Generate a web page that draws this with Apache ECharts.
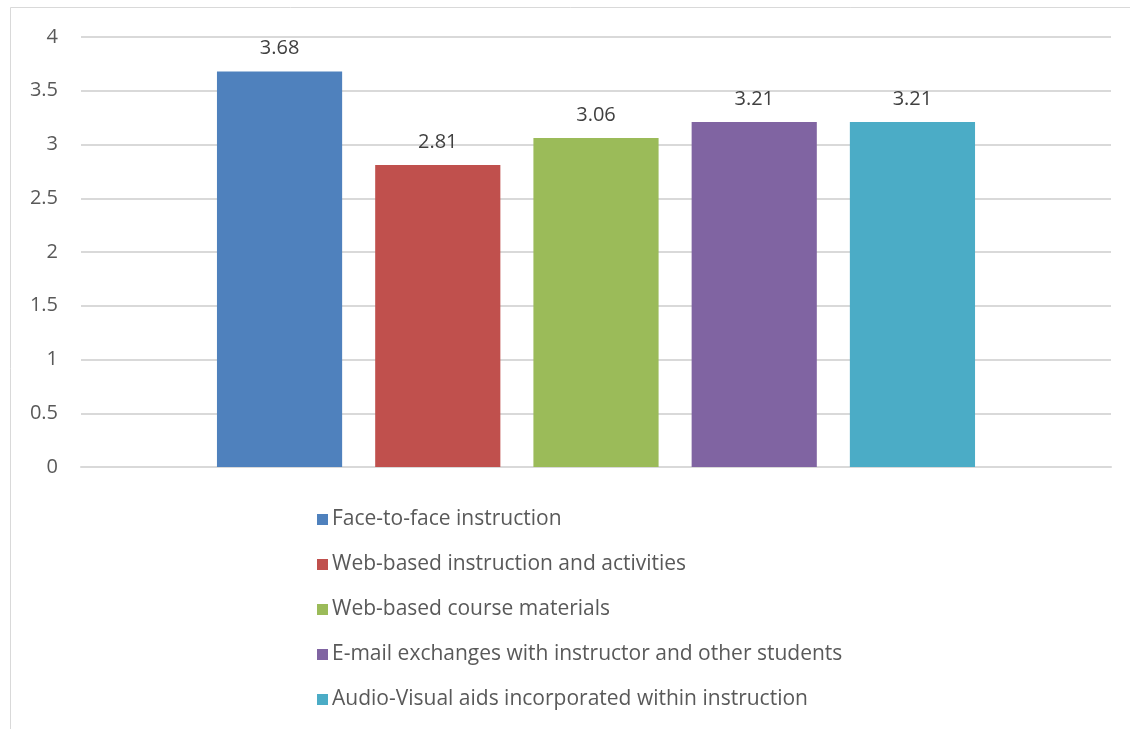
<!DOCTYPE html>
<html>
<head>
<meta charset="utf-8">
<style>
  html, body { margin: 0; padding: 0; background: #fff; }
  #chart { width: 1130px; height: 729px; }
</style>
<script src="https://cdn.jsdelivr.net/npm/echarts@6/dist/echarts.min.js"></script>
</head>
<body>
<div id="chart"></div>
<script>
// Mean ratings per instruction mode (single category, one series each)
const seriesNames = [
  'Face-to-face instruction',
  'Web-based instruction and activities',
  'Web-based course materials',
  'E-mail exchanges with instructor and other students',
  'Audio-Visual aids incorporated within instruction'
];
const seriesValues = [3.68, 2.81, 3.06, 3.21, 3.21];
const seriesColors = ['#4f81bd', '#c0504d', '#9bbb59', '#8064a2', '#4bacc6'];
const categories = [''];

const FONT = '"Open Sans", "Noto Sans", sans-serif';
const TEXT = '#595959';

const chart = echarts.init(document.getElementById('chart'), null, { renderer: 'canvas' });

const series = seriesNames.map((name, i) => ({
  name: name,
  type: 'bar',
  data: [seriesValues[i]],
  itemStyle: { color: seriesColors[i] },
  barGap: '26.4%',
  barCategoryGap: '26.4%',
  label: {
    show: true,
    position: 'top',
    distance: 13,
    color: '#404040',
    fontFamily: FONT,
    fontSize: 20,
    formatter: p => p.value.toFixed(2)
  }
}));

chart.setOption({
  animation: false,
  backgroundColor: '#fff',
  graphic: [{
    type: 'rect',
    shape: { x: 10.5, y: 7.5, width: 1300, height: 900 },
    style: { fill: 'none', stroke: '#d9d9d9', lineWidth: 1 },
    silent: true,
    z: -1
  }],
  grid: { left: 81, right: 19, top: 37, height: 430 },
  xAxis: {
    type: 'category',
    data: categories,
    axisLine: { show: true, lineStyle: { color: '#d9d9d9', width: 2 } },
    axisTick: { show: false },
    axisLabel: { show: false }
  },
  yAxis: {
    type: 'value',
    min: 0,
    max: 4,
    interval: 0.5,
    axisLine: { show: false },
    axisTick: { show: false },
    splitLine: { lineStyle: { color: '#d9d9d9', width: 2 } },
    axisLabel: {
      color: TEXT,
      fontFamily: FONT,
      fontSize: 20,
      margin: 23,
      formatter: v => String(v)
    }
  },
  legend: {
    orient: 'vertical',
    left: 312,
    top: 504,
    itemWidth: 11,
    itemHeight: 11,
    itemGap: 24,
    icon: 'rect',
    textStyle: { color: TEXT, fontFamily: FONT, fontSize: 21, padding: [0, 0, 0, -1], lineHeight: 21 },
    data: seriesNames
  },
  series: series
});
</script>
</body>
</html>
